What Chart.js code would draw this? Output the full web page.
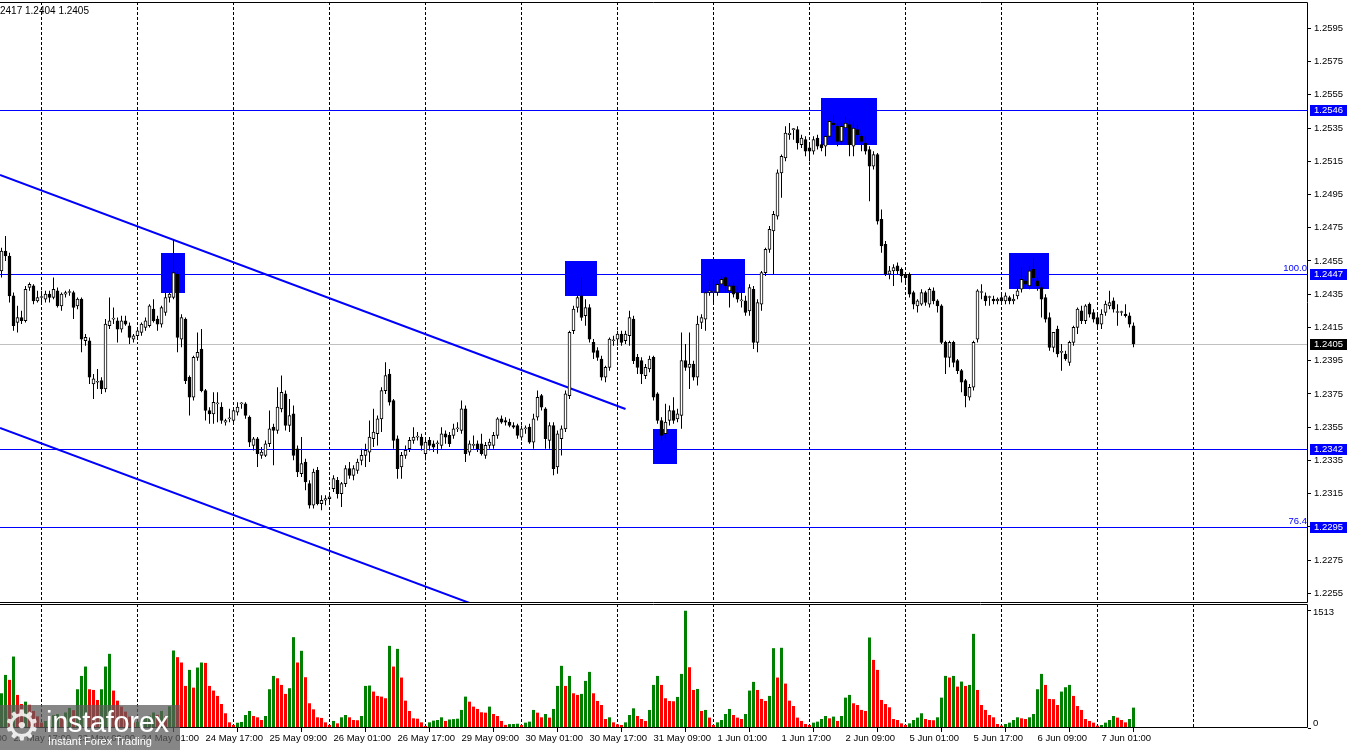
<!DOCTYPE html>
<html>
<head>
<meta charset="utf-8">
<title>GBPUSD H1</title>
<script src="https://cdn.jsdelivr.net/npm/chart.js@4.4.0/dist/chart.umd.min.js"></script>
<style>
  html, body { margin: 0; padding: 0; background: #fff; }
  #wrap { position: relative; width: 1350px; height: 750px; overflow: hidden; }
  #priceChart { position: absolute; left: 0; top: 0; }
  #volChart { position: absolute; left: 0; top: 603px; }
  #logo { position: absolute; left: 0; top: 705px; width: 180px; height: 45px;
          background: rgba(92, 92, 92, 0.74); color: #fff; font-family: 'Liberation Sans', Arial, sans-serif; }
  #logo .gear { position: absolute; left: 3px; top: -4px; font-size: 42px; font-family: 'DejaVu Sans'; color: rgba(255,255,255,0.85); }
  #logo .name { position: absolute; left: 46px; top: 1px; font-size: 29px; letter-spacing: -0.3px; }
  #logo .tag { position: absolute; left: 48px; top: 30px; font-size: 11px; }
</style>
</head>
<body>
<div id="wrap">
  <canvas id="priceChart" width="1350" height="604"></canvas>
  <canvas id="volChart" width="1350" height="147"></canvas>
  <div id="logo"><span class="gear">&#9881;</span><span class="name">instaforex</span><span class="tag">Instant Forex Trading</span></div>
</div>
<script>
// GBPUSD H1, 22 May - 7 Jun, one entry per hourly bar

const opens = [
  1.2449,1.2461,1.2458,1.2434,1.2418,1.2421,1.2419,1.2439,1.2440,1.2431,
  1.2433,1.2432,1.2435,1.2433,1.2437,1.2428,1.2435,1.2436,1.2436,1.2428,
  1.2432,1.2407,1.2407,1.2381,1.2382,1.2383,1.2378,1.2416,1.2420,1.2419,
  1.2414,1.2419,1.2416,1.2408,1.2410,1.2412,1.2415,1.2416,1.2426,1.2420,
  1.2417,1.2424,1.2433,1.2433,1.2447,1.2408,1.2420,1.2385,1.2373,1.2397,
  1.2402,1.2377,1.2365,1.2363,1.2369,1.2367,1.2358,1.2360,1.2359,1.2364,
  1.2369,1.2369,1.2361,1.2344,1.2348,1.2338,1.2338,1.2345,1.2355,1.2353,
  1.2366,1.2375,1.2356,1.2363,1.2342,1.2327,1.2334,1.2321,1.2308,1.2329,
  1.2309,1.2311,1.2312,1.2318,1.2323,1.2315,1.2321,1.2330,1.2326,1.2329,
  1.2335,1.2338,1.2340,1.2348,1.2351,1.2360,1.2377,1.2387,1.2371,1.2348,
  1.2331,1.2338,1.2342,1.2347,1.2349,1.2349,1.2339,1.2347,1.2345,1.2345,
  1.2344,1.2351,1.2350,1.2350,1.2354,1.2353,1.2366,1.2340,1.2344,1.2345,
  1.2345,1.2338,1.2344,1.2344,1.2350,1.2360,1.2359,1.2358,1.2356,1.2356,
  1.2349,1.2354,1.2355,1.2346,1.2361,1.2374,1.2366,1.2347,1.2356,1.2331,
  1.2348,1.2354,1.2374,1.2413,1.2427,1.2434,1.2422,1.2427,1.2406,1.2401,
  1.2396,1.2385,1.2391,1.2407,1.2408,1.2411,1.2407,1.2410,1.2420,1.2397,
  1.2395,1.2386,1.2390,1.2397,1.2375,1.2359,1.2351,1.2359,1.2365,1.2360,
  1.2362,1.2395,1.2391,1.2393,1.2385,1.2418,1.2420,1.2436,1.2436,1.2436,
  1.2441,1.2445,1.2437,1.2440,1.2436,1.2431,1.2431,1.2425,1.2438,1.2406,
  1.2429,1.2448,1.2462,1.2473,1.2482,1.2508,1.2517,1.2531,1.2534,1.2534,
  1.2525,1.2528,1.2523,1.2521,1.2529,1.2525,1.2524,1.2530,1.2538,1.2536,
  1.2527,1.2535,1.2537,1.2524,1.2534,1.2530,1.2526,1.2522,1.2512,1.2519,
  1.2480,1.2465,1.2447,1.2449,1.2452,1.2450,1.2447,1.2447,1.2436,1.2428,
  1.2429,1.2436,1.2429,1.2437,1.2431,1.2428,1.2406,1.2397,1.2406,1.2395,
  1.2389,1.2383,1.2373,1.2379,1.2408,1.2436,1.2434,1.2433,1.2432,1.2431,
  1.2433,1.2431,1.2433,1.2431,1.2434,1.2438,1.2443,1.2440,1.2450,1.2443,
  1.2439,1.2433,1.2421,1.2403,1.2414,1.2400,1.2399,1.2394,1.2406,1.2415,
  1.2425,1.2419,1.2429,1.2424,1.2421,1.2417,1.2424,1.2428,1.2431,1.2424,
  1.2424,1.2423,1.2422,1.2416
];
const highs = [
  1.2463,1.2470,1.2460,1.2436,1.2428,1.2425,1.2440,1.2442,1.2441,1.2437,
  1.2437,1.2437,1.2437,1.2445,1.2439,1.2436,1.2437,1.2438,1.2437,1.2433,
  1.2433,1.2411,1.2409,1.2387,1.2390,1.2385,1.2420,1.2433,1.2427,1.2421,
  1.2422,1.2422,1.2418,1.2411,1.2415,1.2418,1.2421,1.2429,1.2432,1.2422,
  1.2428,1.2437,1.2436,1.2468,1.2449,1.2423,1.2421,1.2386,1.2398,1.2412,
  1.2414,1.2378,1.2367,1.2376,1.2376,1.2370,1.2360,1.2366,1.2366,1.2370,
  1.2370,1.2370,1.2362,1.2349,1.2349,1.2343,1.2347,1.2365,1.2357,1.2379,
  1.2386,1.2377,1.2372,1.2368,1.2344,1.2349,1.2336,1.2323,1.2330,1.2331,
  1.2314,1.2314,1.2316,1.2326,1.2325,1.2322,1.2332,1.2334,1.2332,1.2336,
  1.2342,1.2345,1.2359,1.2366,1.2362,1.2379,1.2394,1.2390,1.2372,1.2350,
  1.2340,1.2344,1.2349,1.2355,1.2352,1.2351,1.2348,1.2349,1.2347,1.2347,
  1.2355,1.2353,1.2352,1.2357,1.2358,1.2371,1.2368,1.2347,1.2350,1.2347,
  1.2351,1.2346,1.2348,1.2352,1.2361,1.2362,1.2361,1.2360,1.2358,1.2357,
  1.2356,1.2356,1.2357,1.2363,1.2377,1.2375,1.2367,1.2358,1.2358,1.2353,
  1.2356,1.2377,1.2413,1.2428,1.2435,1.2445,1.2432,1.2429,1.2408,1.2403,
  1.2398,1.2392,1.2409,1.2410,1.2413,1.2413,1.2413,1.2425,1.2422,1.2399,
  1.2397,1.2393,1.2398,1.2398,1.2376,1.2361,1.2369,1.2368,1.2373,1.2366,
  1.2412,1.2405,1.2412,1.2395,1.2422,1.2423,1.2438,1.2443,1.2444,1.2443,
  1.2446,1.2446,1.2442,1.2442,1.2440,1.2439,1.2434,1.2441,1.2440,1.2432,
  1.2449,1.2463,1.2476,1.2485,1.2510,1.2519,1.2536,1.2538,1.2535,1.2536,
  1.2531,1.2530,1.2525,1.2530,1.2531,1.2527,1.2531,1.2540,1.2543,1.2538,
  1.2538,1.2542,1.2540,1.2539,1.2537,1.2532,1.2530,1.2524,1.2521,1.2520,
  1.2486,1.2467,1.2452,1.2453,1.2454,1.2451,1.2448,1.2448,1.2437,1.2432,
  1.2438,1.2437,1.2439,1.2439,1.2432,1.2429,1.2407,1.2407,1.2407,1.2396,
  1.2390,1.2384,1.2381,1.2407,1.2438,1.2441,1.2436,1.2434,1.2434,1.2433,
  1.2435,1.2436,1.2434,1.2435,1.2440,1.2451,1.2446,1.2452,1.2457,1.2445,
  1.2441,1.2435,1.2424,1.2412,1.2416,1.2405,1.2401,1.2407,1.2416,1.2427,
  1.2428,1.2429,1.2430,1.2426,1.2424,1.2426,1.2431,1.2437,1.2433,1.2429,
  1.2425,1.2429,1.2424,1.2418
];
const lows = [
  1.2445,1.2455,1.2430,1.2413,1.2412,1.2417,1.2418,1.2437,1.2429,1.2430,
  1.2429,1.2430,1.2430,1.2432,1.2427,1.2425,1.2433,1.2434,1.2420,1.2426,
  1.2400,1.2404,1.2381,1.2372,1.2378,1.2375,1.2376,1.2414,1.2417,1.2406,
  1.2412,1.2416,1.2405,1.2406,1.2408,1.2410,1.2413,1.2415,1.2418,1.2413,
  1.2415,1.2422,1.2430,1.2432,1.2400,1.2403,1.2381,1.2362,1.2371,1.2395,
  1.2376,1.2359,1.2357,1.2357,1.2358,1.2357,1.2356,1.2358,1.2357,1.2362,
  1.2366,1.2360,1.2343,1.2341,1.2331,1.2336,1.2337,1.2343,1.2332,1.2351,
  1.2364,1.2353,1.2352,1.2335,1.2325,1.2325,1.2317,1.2306,1.2306,1.2308,
  1.2305,1.2308,1.2310,1.2316,1.2312,1.2307,1.2319,1.2324,1.2323,1.2327,
  1.2332,1.2331,1.2334,1.2343,1.2344,1.2352,1.2375,1.2368,1.2342,1.2324,
  1.2324,1.2336,1.2340,1.2345,1.2347,1.2341,1.2335,1.2341,1.2340,1.2339,
  1.2342,1.2345,1.2343,1.2348,1.2352,1.2351,1.2334,1.2338,1.2342,1.2340,
  1.2338,1.2336,1.2342,1.2342,1.2348,1.2357,1.2356,1.2355,1.2354,1.2348,
  1.2347,1.2351,1.2345,1.2342,1.2359,1.2365,1.2342,1.2342,1.2326,1.2327,
  1.2338,1.2352,1.2372,1.2411,1.2424,1.2419,1.2416,1.2406,1.2396,1.2395,
  1.2383,1.2382,1.2389,1.2404,1.2404,1.2404,1.2405,1.2404,1.2393,1.2387,
  1.2381,1.2384,1.2388,1.2371,1.2357,1.2347,1.2348,1.2356,1.2357,1.2358,
  1.2354,1.2389,1.2378,1.2383,1.2380,1.2414,1.2413,1.2434,1.2429,1.2434,
  1.2439,1.2436,1.2427,1.2433,1.2430,1.2427,1.2422,1.2422,1.2402,1.2400,
  1.2425,1.2446,1.2460,1.2447,1.2480,1.2493,1.2515,1.2528,1.2528,1.2522,
  1.2523,1.2518,1.2515,1.2519,1.2522,1.2521,1.2518,1.2528,1.2533,1.2524,
  1.2525,1.2530,1.2518,1.2518,1.2528,1.2521,1.2519,1.2491,1.2510,1.2477,
  1.2460,1.2446,1.2444,1.2440,1.2447,1.2442,1.2442,1.2433,1.2426,1.2424,
  1.2428,1.2428,1.2427,1.2429,1.2424,1.2405,1.2387,1.2391,1.2391,1.2387,
  1.2376,1.2367,1.2371,1.2377,1.2406,1.2432,1.2428,1.2428,1.2429,1.2429,
  1.2430,1.2429,1.2429,1.2429,1.2432,1.2436,1.2439,1.2438,1.2443,1.2437,
  1.2421,1.2418,1.2401,1.2400,1.2397,1.2389,1.2395,1.2392,1.2404,1.2411,
  1.2417,1.2417,1.2421,1.2418,1.2414,1.2414,1.2422,1.2426,1.2424,1.2416,
  1.2422,1.2421,1.2415,1.2403
];
const closes = [
  1.2461,1.2458,1.2434,1.2416,1.2421,1.2419,1.2438,1.2441,1.2431,1.2433,
  1.2433,1.2435,1.2433,1.2438,1.2428,1.2435,1.2436,1.2436,1.2427,1.2432,
  1.2408,1.2409,1.2385,1.2384,1.2382,1.2378,1.2417,1.2419,1.2420,1.2414,
  1.2419,1.2417,1.2409,1.2410,1.2413,1.2417,1.2419,1.2428,1.2419,1.2417,
  1.2427,1.2433,1.2435,1.2448,1.2409,1.2421,1.2383,1.2373,1.2397,1.2400,
  1.2377,1.2365,1.2363,1.2370,1.2369,1.2359,1.2359,1.2360,1.2365,1.2367,
  1.2369,1.2362,1.2346,1.2348,1.2339,1.2340,1.2345,1.2354,1.2353,1.2367,
  1.2376,1.2356,1.2362,1.2338,1.2328,1.2333,1.2322,1.2308,1.2328,1.2309,
  1.2311,1.2312,1.2313,1.2324,1.2315,1.2321,1.2330,1.2326,1.2330,1.2334,
  1.2338,1.2341,1.2349,1.2352,1.2360,1.2377,1.2386,1.2370,1.2347,1.2330,
  1.2338,1.2341,1.2347,1.2349,1.2349,1.2344,1.2346,1.2344,1.2343,1.2345,
  1.2351,1.2349,1.2345,1.2354,1.2354,1.2366,1.2339,1.2345,1.2344,1.2342,
  1.2339,1.2344,1.2346,1.2350,1.2360,1.2358,1.2358,1.2356,1.2355,1.2350,
  1.2354,1.2354,1.2346,1.2360,1.2373,1.2367,1.2348,1.2356,1.2330,1.2351,
  1.2354,1.2375,1.2412,1.2426,1.2433,1.2421,1.2427,1.2408,1.2400,1.2397,
  1.2385,1.2391,1.2408,1.2407,1.2411,1.2406,1.2411,1.2421,1.2395,1.2391,
  1.2387,1.2391,1.2396,1.2373,1.2359,1.2350,1.2358,1.2365,1.2359,1.2363,
  1.2395,1.2391,1.2393,1.2385,1.2417,1.2421,1.2436,1.2437,1.2436,1.2441,
  1.2444,1.2440,1.2440,1.2435,1.2432,1.2431,1.2424,1.2439,1.2406,1.2430,
  1.2448,1.2462,1.2474,1.2483,1.2508,1.2518,1.2532,1.2532,1.2534,1.2526,
  1.2529,1.2521,1.2521,1.2528,1.2524,1.2523,1.2530,1.2539,1.2537,1.2527,
  1.2536,1.2538,1.2525,1.2535,1.2531,1.2527,1.2521,1.2512,1.2519,1.2479,
  1.2464,1.2447,1.2449,1.2451,1.2449,1.2446,1.2445,1.2435,1.2429,1.2431,
  1.2436,1.2430,1.2438,1.2431,1.2428,1.2406,1.2397,1.2406,1.2394,1.2389,
  1.2382,1.2374,1.2379,1.2406,1.2437,1.2436,1.2431,1.2433,1.2431,1.2432,
  1.2431,1.2434,1.2431,1.2432,1.2437,1.2444,1.2441,1.2449,1.2445,1.2440,
  1.2432,1.2420,1.2403,1.2412,1.2399,1.2400,1.2396,1.2406,1.2415,1.2426,
  1.2419,1.2428,1.2423,1.2420,1.2417,1.2423,1.2429,1.2430,1.2426,1.2424,
  1.2424,1.2422,1.2417,1.2405
];
const volumes = [
  448,685,621,922,427,310,340,300,220,150,
  70,90,110,165,180,140,200,260,230,500,
  672,793,500,491,362,500,793,957,483,353,
  276,211,147,69,80,100,130,160,200,170,
  220,150,280,1000,914,845,543,750,521,780,
  845,840,543,483,414,310,190,73,39,68,
  78,168,220,155,138,103,155,500,672,642,
  556,440,513,1172,845,996,655,319,241,138,
  130,73,39,91,60,138,168,138,103,100,
  155,543,548,470,414,405,384,1060,793,1021,
  651,353,220,125,120,73,26,73,95,103,
  138,91,110,115,120,233,405,340,276,246,
  203,198,276,181,155,91,40,50,52,55,
  38,69,82,233,198,138,181,134,246,543,
  802,543,672,448,427,440,608,724,448,349,
  297,116,138,73,47,39,73,168,254,155,
  116,91,233,556,672,556,384,349,345,401,
  698,1513,784,491,504,220,233,134,39,73,
  103,181,246,168,134,116,181,483,595,491,
  375,349,414,1030,651,1035,573,353,284,134,
  91,52,39,69,82,116,155,125,147,91,
  155,392,427,319,297,233,220,1168,879,750,
  362,310,267,116,103,60,39,60,103,134,
  190,116,103,100,138,392,672,651,672,534,
  599,543,556,1215,491,297,233,168,138,52,
  30,52,69,103,138,125,116,138,181,500,
  698,556,375,372,297,470,526,556,414,284,
  233,116,91,69,30,39,69,103,155,134,
  103,73,116,263
];

// time axis: bar number of each label
const labelBars = [-13, 3, 19, 35, 51, 67, 83, 99, 115, 131, 147, 163, 179, 195, 211, 227, 243, 259, 275];
const timeLabels = ['22 May 01:00', '22 May 17:00', '23 May 09:00', '24 May 01:00', '24 May 17:00', '25 May 09:00',
  '26 May 01:00', '26 May 17:00', '29 May 09:00', '30 May 01:00', '30 May 17:00', '31 May 09:00',
  '1 Jun 01:00', '1 Jun 17:00', '2 Jun 09:00', '5 Jun 01:00', '5 Jun 17:00', '6 Jun 09:00', '7 Jun 01:00'];
const gridBars = [10, 34, 58, 82, 106, 130, 154, 178, 202, 226, 250, 274, 298];

const priceTicks = [1.2595, 1.2575, 1.2555, 1.2535, 1.2515, 1.2495, 1.2475, 1.2455, 1.2435,
  1.2415, 1.2395, 1.2375, 1.2355, 1.2335, 1.2315, 1.2295, 1.2275, 1.2255];
const levels = [1.2546, 1.2447, 1.2342, 1.2295];
const lastPrice = 1.2405;
const fibTags = [['100.0', 1.2447], ['76.4', 1.2295]];
const volumeTicks = [0, 1513];

// marked zones: [first bar, last bar, top price, bottom price]
const zones = [
  [39.9, 45.9, 1.2460, 1.2436],
  [140.9, 148.9, 1.2455, 1.2434],
  [162.9, 168.9, 1.2354, 1.2333],
  [174.9, 185.9, 1.2456, 1.2436],
  [204.9, 218.9, 1.2553, 1.2525],
  [251.9, 261.9, 1.2460, 1.2438]
];
// channel lines: [[bar, price], [bar, price]]
const channel = [
  [[-0.375, 1.25067], [156, 1.23659]],
  [[-0.375, 1.23545], [118, 1.22483]]
];

const X_MIN = -0.375, X_MAX = 326.625;
const FONT = { family: "'Liberation Sans', Arial, sans-serif", size: 9.5 };
const BLUE = '#0000ff';

Chart.defaults.font.family = FONT.family;
Chart.defaults.font.size = FONT.size;
Chart.defaults.color = '#000';

// keep the plot area exactly where the layout padding puts it
function noPad(s) {
  s.paddingTop = 0; s.paddingBottom = 0; s.paddingLeft = 0; s.paddingRight = 0;
}

function drawGrid(chart) {
  const { ctx, chartArea: a, scales: { x } } = chart;
  ctx.save();
  ctx.strokeStyle = '#000';
  ctx.lineWidth = 1;
  ctx.setLineDash([3, 2]);
  gridBars.forEach(b => {
    const px = Math.floor(x.getPixelForValue(b)) + 0.5;
    if (px < a.left || px > a.right) return;
    ctx.beginPath();
    ctx.moveTo(px, a.top);
    ctx.lineTo(px, a.bottom);
    ctx.stroke();
  });
  ctx.restore();
}

// top, right and bottom edges of the panel (no left edge)
function drawFrame(chart) {
  const { ctx, chartArea: a } = chart;
  ctx.save();
  ctx.strokeStyle = '#000';
  ctx.lineWidth = 1;
  ctx.beginPath();
  ctx.moveTo(a.left, a.top + 0.5);
  ctx.lineTo(a.right - 0.5, a.top + 0.5);
  ctx.lineTo(a.right - 0.5, a.bottom - 0.5);
  ctx.lineTo(a.left, a.bottom - 0.5);
  ctx.stroke();
  ctx.restore();
}

function tag(ctx, x, y, text, bg) {
  ctx.fillStyle = bg;
  ctx.fillRect(x, Math.round(y) - 5, 37, 11);
  ctx.fillStyle = '#fff';
  ctx.textAlign = 'left';
  ctx.textBaseline = 'middle';
  ctx.fillText(text, x + 4, Math.round(y) + 0.5);
}

const pricePlugin = {
  id: 'pricePlugin',
  beforeDatasetsDraw(chart) {
    const { ctx, chartArea: a, scales: { x, y } } = chart;
    drawGrid(chart);
    ctx.save();
    ctx.beginPath();
    ctx.rect(a.left, a.top, a.right - a.left, a.bottom - a.top);
    ctx.clip();

    ctx.fillStyle = BLUE;
    zones.forEach(z => {
      const x0 = Math.round(x.getPixelForValue(z[0])), x1 = Math.round(x.getPixelForValue(z[1]));
      const y0 = Math.round(y.getPixelForValue(z[2])), y1 = Math.round(y.getPixelForValue(z[3]));
      ctx.fillRect(x0, y0, x1 - x0, y1 - y0);
    });

    ctx.lineWidth = 1;
    ctx.strokeStyle = BLUE;
    levels.forEach(p => {
      const py = Math.round(y.getPixelForValue(p)) + 0.5;
      ctx.beginPath(); ctx.moveTo(a.left, py); ctx.lineTo(a.right, py); ctx.stroke();
    });
    ctx.strokeStyle = '#c0c0c0';
    const ly = Math.round(y.getPixelForValue(lastPrice)) + 0.5;
    ctx.beginPath(); ctx.moveTo(a.left, ly); ctx.lineTo(a.right, ly); ctx.stroke();

    ctx.strokeStyle = BLUE;
    ctx.lineWidth = 2;
    channel.forEach(seg => {
      ctx.beginPath();
      ctx.moveTo(x.getPixelForValue(seg[0][0]), y.getPixelForValue(seg[0][1]));
      ctx.lineTo(x.getPixelForValue(seg[1][0]), y.getPixelForValue(seg[1][1]));
      ctx.stroke();
    });
    ctx.restore();
  },
  afterDraw(chart) {
    const { ctx, chartArea: a, scales: { y } } = chart;
    drawFrame(chart);
    ctx.save();
    ctx.font = FONT.size + 'px ' + FONT.family;
    levels.forEach(p => tag(ctx, a.right + 2, y.getPixelForValue(p), p.toFixed(4), BLUE));
    tag(ctx, a.right + 2, y.getPixelForValue(lastPrice), lastPrice.toFixed(4), '#000');

    ctx.fillStyle = BLUE;
    ctx.textAlign = 'right';
    ctx.textBaseline = 'bottom';
    fibTags.forEach(([t, p]) => ctx.fillText(t, a.right - 1, Math.round(y.getPixelForValue(p)) - 1));

    ctx.fillStyle = '#000';
    ctx.textAlign = 'left';
    ctx.textBaseline = 'middle';
    ctx.font = '10px ' + FONT.family;
    ctx.fillText('2417 1.2404 1.2405', 0, 11);
    ctx.restore();
  }
};

const volPlugin = {
  id: 'volPlugin',
  beforeDatasetsDraw(chart) { drawGrid(chart); },
  afterDraw(chart) {
    const { ctx, chartArea: a, scales: { y } } = chart;
    drawFrame(chart);
    // MT4 puts the max label just under its level and the 0 label just above it
    ctx.save();
    ctx.font = FONT.size + 'px ' + FONT.family;
    ctx.fillStyle = '#000';
    ctx.textAlign = 'left';
    ctx.textBaseline = 'middle';
    ctx.fillText(String(volumeTicks[1]), a.right + 5, Math.round(y.getPixelForValue(volumeTicks[1])) + 1);
    ctx.textBaseline = 'alphabetic';
    ctx.fillText(String(volumeTicks[0]), a.right + 5, Math.round(y.getPixelForValue(volumeTicks[0])) - 2);
    ctx.restore();
  }
};

const bars = opens.map((o, i) => i);

new Chart(document.getElementById('priceChart'), {
  type: 'bar',
  data: {
    datasets: [
      {
        data: bars.map(i => ({ x: i, y: [opens[i], closes[i]] })),
        backgroundColor: bars.map(i => closes[i] >= opens[i] ? '#fff' : '#000'),
        borderColor: '#000',
        borderWidth: 1,
        borderSkipped: false,
        barThickness: 3,
        minBarLength: 1,
        grouped: false,
        order: 0
      },
      {
        data: bars.map(i => ({ x: i, y: [lows[i], highs[i]] })),
        backgroundColor: '#000',
        borderWidth: 0,
        inflateAmount: 0,
        barThickness: 1,
        grouped: false,
        order: 1
      }
    ]
  },
  options: {
    responsive: false,
    animation: false,
    events: [],
    layout: { autoPadding: false, padding: { top: 2, bottom: 1, left: 0, right: 0 } },
    scales: {
      x: { type: 'linear', min: X_MIN, max: X_MAX, offset: false, display: false },
      y: {
        position: 'right',
        min: 1.224917, max: 1.261083,
        afterBuildTicks: s => { s.ticks = priceTicks.map(v => ({ value: v })); },
        afterFit: s => { s.width = 42; noPad(s); },
        grid: { drawOnChartArea: false, drawTicks: true, tickLength: 3, color: '#000' },
        border: { display: false },
        ticks: { padding: 3, color: '#000', autoSkip: false, callback: v => v.toFixed(4) }
      }
    },
    plugins: { legend: { display: false }, tooltip: { enabled: false } }
  },
  plugins: [pricePlugin]
});

new Chart(document.getElementById('volChart'), {
  type: 'bar',
  data: {
    datasets: [{
      data: volumes.map((v, i) => ({ x: i, y: v })),
      backgroundColor: volumes.map((v, i) => (i === 0 || v > volumes[i - 1]) ? '#008000' : '#ff0000'),
      borderWidth: 0,
      inflateAmount: 0,
      barThickness: 3,
      grouped: false
    }]
  },
  options: {
    responsive: false,
    animation: false,
    events: [],
    layout: { autoPadding: false, padding: { top: 1, bottom: 0, left: 0, right: 0 } },
    scales: {
      x: { type: 'linear', min: X_MIN, max: X_MAX, offset: false, display: false },
      xt: {
        type: 'linear', position: 'bottom', min: X_MIN, max: X_MAX, offset: false,
        afterBuildTicks: s => { s.ticks = labelBars.map(v => ({ value: v })); },
        afterFit: s => { s.height = 22; noPad(s); },
        grid: { drawOnChartArea: false, drawTicks: true, tickLength: 4, color: '#000' },
        border: { display: false },
        ticks: { align: 'start', padding: 1, autoSkip: false, maxRotation: 0, color: '#000',
                 callback: (v, i) => timeLabels[i] }
      },
      y: {
        position: 'right',
        min: 0, max: 1600,
        afterBuildTicks: s => { s.ticks = volumeTicks.map(v => ({ value: v })); },
        afterFit: s => { s.width = 42; noPad(s); },
        grid: { drawOnChartArea: false, drawTicks: true, tickLength: 3, color: '#000' },
        border: { display: false },
        ticks: { padding: 3, color: '#000', autoSkip: false, callback: () => '' }
      }
    },
    plugins: { legend: { display: false }, tooltip: { enabled: false } }
  },
  plugins: [volPlugin]
});
</script>
</body>
</html>
